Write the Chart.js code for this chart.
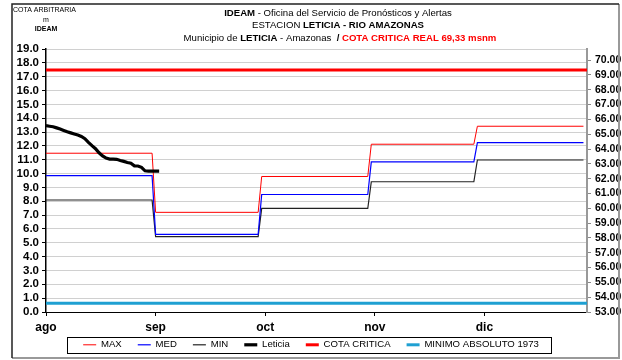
<!DOCTYPE html>
<html>
<head>
<meta charset="utf-8">
<script src="https://cdn.jsdelivr.net/npm/chart.js@4.4.1/dist/chart.umd.min.js"></script>
<style>
  html, body { margin: 0; padding: 0; background: #fff; }
  #wrap { width: 622px; height: 360px; position: relative; }
</style>
</head>
<body>
<div id="wrap"><canvas id="c" width="622" height="360"></canvas></div>
<script>
// Month labels and the daily index where each label tick sits
const months = ['ago', 'sep', 'oct', 'nov', 'dic'];
const monthTicks = [0, 31, 62, 93, 124];
// First day index of every month (Aug 1 = 0) and last day index (Dec 31)
const monthStarts = [0, 31, 61, 92, 122];
const lastDay = 152;

// Monthly reference levels (m, arbitrary gauge)
const maxVals = [11.47, 7.20, 9.79, 12.12, 13.42];
const medVals = [9.85, 5.61, 8.49, 10.84, 12.23];
const minVals = [8.09, 5.44, 7.48, 9.41, 10.98];

// Observed daily level at Leticia from Aug 1
const leticia = [13.46, 13.42, 13.38, 13.30, 13.22, 13.12, 13.02, 12.94, 12.86, 12.78,
                 12.68, 12.52, 12.26, 12.02, 11.80, 11.50, 11.28, 11.12, 11.05, 11.04,
                 11.03, 10.95, 10.88, 10.80, 10.75, 10.56, 10.55, 10.45, 10.20, 10.18,
                 10.18, 10.18, 10.18];

// Critical level (msnm, right axis) and historical minimum (left axis)
const cotaCritica = 69.33;
const minimoAbsoluto = 0.63;

// Left and right axis ranges
const leftMin = 0, leftMax = 19;
const rightMin = 53, rightMax = 70.75, rightTop = 70;

function stepSeries(vals) {
  const pts = [];
  vals.forEach((v, i) => {
    const end = i < monthStarts.length - 1 ? monthStarts[i + 1] - 1 : lastDay;
    pts.push({ x: monthStarts[i], y: v }, { x: end, y: v });
  });
  return pts;
}
const flat = (v) => [{ x: 0, y: v }, { x: lastDay + 1, y: v }];

const FONT = "'Liberation Sans', Arial, sans-serif";
const LEGEND_LIFT = 10;

function drawRich(ctx, runs, cx, cy, size) {
  let total = 0;
  runs.forEach(r => {
    ctx.font = (r.b ? 'bold ' : '') + size + 'px ' + FONT;
    r.w = ctx.measureText(r.t).width;
    total += r.w;
  });
  let x = cx - total / 2;
  ctx.textBaseline = 'middle';
  ctx.textAlign = 'left';
  runs.forEach(r => {
    ctx.font = (r.b ? 'bold ' : '') + size + 'px ' + FONT;
    ctx.fillStyle = r.c || '#000';
    ctx.fillText(r.t, x, cy);
    x += r.w;
  });
}

const decor = {
  id: 'decor',
  afterLayout(chart) {
    // pull the legend row up, closer to the month labels
    const lg = chart.legend;
    if (lg) { lg.top -= LEGEND_LIFT; lg.height += LEGEND_LIFT; }
  },
  afterDraw(chart) {
    const ctx = chart.ctx;
    ctx.save();
    // outer frame
    ctx.strokeStyle = '#999';
    ctx.lineWidth = 2;
    ctx.beginPath();
    ctx.moveTo(619, 4); ctx.lineTo(619, 358); ctx.lineTo(12, 358);
    ctx.stroke();
    ctx.strokeStyle = '#222';
    ctx.lineWidth = 1.5;
    ctx.beginPath();
    ctx.moveTo(12, 358); ctx.lineTo(12, 4); ctx.lineTo(619, 4);
    ctx.stroke();

    // unit caption
    ctx.fillStyle = '#000';
    ctx.textAlign = 'left';
    ctx.textBaseline = 'middle';
    ctx.font = '7px ' + FONT;
    ctx.fillText('COTA ARBITRARIA', 13, 10);
    ctx.textAlign = 'center';
    ctx.fillText('m', 46, 20);
    ctx.font = 'bold 7px ' + FONT;
    ctx.fillText('IDEAM', 46, 29);

    // titles
    drawRich(ctx, [{ t: 'IDEAM', b: true }, { t: ' - Oficina del Servicio de Pronósticos y Alertas' }], 338, 13, 9.6);
    drawRich(ctx, [{ t: 'ESTACION ' }, { t: 'LETICIA - RIO AMAZONAS', b: true }], 338, 25, 9.6);
    drawRich(ctx, [{ t: 'Municipio de ' }, { t: 'LETICIA', b: true }, { t: ' - Amazonas  ' },
                   { t: '/', b: true }, { t: ' COTA CRITICA REAL 69,33 msnm', b: true, c: '#ff0000' }], 340, 38, 9.6);

    // legend frame
    const boxes = chart.legend.legendHitBoxes;
    if (boxes && boxes.length) {
      const l = Math.min(...boxes.map(b => b.left)) - 16;
      const r = Math.max(...boxes.map(b => b.left + b.width)) + 12;
      const t = Math.min(...boxes.map(b => b.top)) - 3;
      const btm = Math.max(...boxes.map(b => b.top + b.height)) + 3;
      ctx.strokeStyle = '#000';
      ctx.lineWidth = 1;
      ctx.strokeRect(Math.round(l) + 0.5, Math.round(t) + 0.5, Math.round(r - l), Math.round(btm - t));
    }
    ctx.restore();
  }
};

new Chart(document.getElementById('c'), {
  type: 'line',
  data: {
    datasets: [
      { label: 'MAX', data: stepSeries(maxVals), borderColor: '#ff0000', borderWidth: 1 },
      { label: 'MED', data: stepSeries(medVals), borderColor: '#0000ff', borderWidth: 1.2 },
      { label: 'MIN', data: stepSeries(minVals), borderColor: '#222222', borderWidth: 1.2 },
      { label: 'Leticia', data: leticia.map((v, i) => ({ x: i, y: v })), borderColor: '#000000', borderWidth: 3.2, order: -1 },
      { label: 'COTA CRITICA', data: flat(cotaCritica), borderColor: '#ff0000', borderWidth: 3, yAxisID: 'y2' },
      { label: 'MINIMO ABSOLUTO 1973', data: flat(minimoAbsoluto), borderColor: '#1fa0d2', borderWidth: 3 }
    ]
  },
  options: {
    responsive: false,
    animation: false,
    devicePixelRatio: 1,
    layout: { padding: { top: 49, left: 0, right: 0, bottom: 0 } },
    elements: { point: { radius: 0 }, line: { tension: 0, fill: false } },
    plugins: {
      title: { display: false },
      tooltip: { enabled: false },
      legend: {
        position: 'bottom',
        maxHeight: 26,
        labels: {
          usePointStyle: true,
          pointStyle: 'line',
          pointStyleWidth: 13,
          color: '#000',
          padding: 16,
          font: { family: FONT, size: 9.6 },
          sort: (a, b) => a.datasetIndex - b.datasetIndex
        }
      }
    },
    scales: {
      x: {
        type: 'linear',
        min: 0,
        max: lastDay + 1,
        afterBuildTicks: (s) => { s.ticks = monthTicks.map(v => ({ value: v })); },
        afterFit: (s) => { s.height = 22; },
        ticks: {
          autoSkip: false, maxRotation: 0, padding: 4, color: '#000',
          font: { family: FONT, size: 12, weight: 'bold' },
          callback: (v) => months[monthTicks.indexOf(v)]
        },
        grid: { drawOnChartArea: false, drawTicks: true, tickLength: 4, tickColor: '#000' },
        border: { color: '#000', width: 1 }
      },
      y: {
        position: 'left',
        min: leftMin,
        max: leftMax,
        afterFit: (s) => { s.width = 46; },
        ticks: {
          stepSize: 1, autoSkip: false, padding: 3, color: '#000',
          font: { family: FONT, size: 11.5, weight: 'bold' },
          callback: (v) => v.toFixed(1)
        },
        grid: { color: '#a0a0a0', lineWidth: 1, tickLength: 4, tickColor: '#000', tickBorderDash: [] },
        border: { color: '#000', width: 1.5, dash: [1, 1] }
      },
      y2: {
        position: 'right',
        min: rightMin,
        max: rightMax,
        afterFit: (s) => { s.width = 35; },
        afterBuildTicks: (s) => {
          const t = [];
          for (let v = rightMin; v <= rightTop; v++) t.push({ value: v });
          s.ticks = t;
        },
        ticks: {
          autoSkip: false, padding: 4, color: '#000',
          font: { family: FONT, size: 10.5, weight: 'bold' },
          callback: (v) => v.toFixed(2)
        },
        grid: { drawOnChartArea: false, tickLength: 4, tickColor: '#888' },
        border: { color: '#999', width: 2 }
      }
    }
  },
  plugins: [decor]
});
</script>
</body>
</html>
